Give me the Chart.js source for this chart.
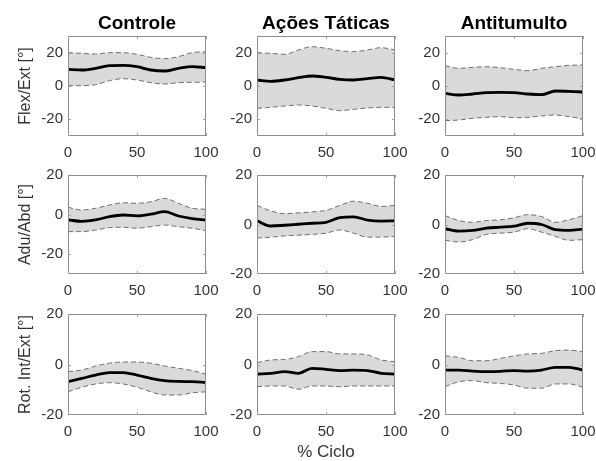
<!DOCTYPE html>
<html><head><meta charset="utf-8">
<script src="https://cdn.jsdelivr.net/npm/chart.js@4.4.1/dist/chart.umd.min.js"></script>
<style>
html,body{margin:0;padding:0;background:#fff;overflow:hidden;width:596px;height:461px}
#wrap{position:relative;width:596px;height:461px;overflow:hidden}
canvas{position:absolute}
</style></head><body><div id="wrap"></div>
<script>
// ---- data ----
const cycle = [0,10,20,30,40,50,60,70,80,90,100];
const groups = ['Controle','Ações Táticas','Antitumulto'];
const angles = ['Flex/Ext [°]','Adu/Abd [°]','Rot. Int/Ext [°]'];
const xLabel = '% Ciclo';
const xTicks = [0,50,100];
const yTicks = [-20,0,20];
const yMinRow1 = [-30,-30,-30], yMaxRow1 = [30,30,30];
const yMinRow2 = [-30,-20,-20], yMaxRow2 = [20,20,20];
const yMinRow3 = [-20,-20,-20], yMaxRow3 = [20,20,20];

// Flex/Ext
const flexControleMean  = [10,9.6,10.6,12.2,12.4,11.6,9.6,9,10.6,11.6,11];
const flexControleUpper = [20,19.6,19.2,20,20,19,17.2,16.4,17.6,20,20.6];
const flexControleLower = [0.2,0.2,0.8,3.2,4.4,3.6,2,1.2,2,2.2,2.4];
const flexTaticasMean   = [3.6,2.8,3.6,5,6,5.2,4,3.6,4.4,5.2,3.6];
const flexTaticasUpper  = [20,19.6,19,21.6,23.6,22.6,21.2,20.6,21.6,23,21.6];
const flexTaticasLower  = [-13.4,-12.8,-12,-11.4,-12,-13.4,-14.8,-14,-13.2,-12.8,-12.8];
const flexTumultoMean   = [-4.4,-5.4,-4.8,-4,-3.8,-4,-4.8,-5.2,-3,-3.2,-3.6];
const flexTumultoUpper  = [12.2,10.6,11.2,11.6,11,10,9.2,10.6,11.6,12.4,12.6];
const flexTumultoLower  = [-20.8,-20.4,-19.4,-18.8,-18.4,-19,-18.8,-18,-17.4,-18.4,-19.8];
// Adu/Abd
const aduControleMean   = [-2.7,-3.4,-2.7,-1,-0.2,-0.6,0.2,1.5,-0.7,-2,-2.7];
const aduControleUpper  = [3.7,2.3,3.2,4.8,6,5.7,6.5,8.2,5.7,3.2,2.7];
const aduControleLower  = [-8.6,-8.6,-7.8,-6.6,-6.4,-6.9,-6.1,-5.3,-6.1,-6.9,-8.1];
const aduTaticasMean    = [1.5,-0.6,-0.3,0.1,0.5,0.9,2.8,3.1,1.8,1.4,1.5];
const aduTaticasUpper   = [7.7,5.5,4.4,4.7,5.1,5.7,7.7,9.4,8.6,7.3,7.7];
const aduTaticasLower   = [-5.5,-5.1,-4.6,-4.3,-4,-3.5,-2.2,-3.5,-5.1,-5.1,-4.8];
const aduTumultoMean    = [-1.7,-2.7,-2.4,-1.5,-1.1,-0.7,0.5,0,-2.1,-2.4,-1.9];
const aduTumultoUpper   = [3.6,1.6,0.9,1.6,1.9,2.7,4,3.2,0.9,1.9,3.6];
const aduTumultoLower   = [-6.4,-7.1,-6.1,-4,-3.5,-3.1,-1.7,-3.1,-4.8,-6.4,-6.1];
// Rot. Int/Ext
const rotControleMean   = [-6.8,-5.5,-4.2,-3.2,-3.2,-4.2,-5.5,-6.4,-6.7,-6.8,-7.1];
const rotControleUpper  = [-2.8,-2.2,-0.6,0.5,1,1,0.5,-0.6,-1.5,-2.4,-3.8];
const rotControleLower  = [-10.8,-9,-7.7,-7.2,-7.7,-9,-10.8,-12.1,-12.1,-11.2,-10.8];
const rotTaticasMean    = [-3.8,-3.5,-2.8,-3.5,-1.5,-1.9,-2.4,-2.2,-2.4,-3.5,-3.8];
const rotTaticasUpper   = [0.7,1.8,2,3.1,5.1,5.1,4.2,4.2,3.8,1.8,1.1];
const rotTaticasLower   = [-8.8,-8.5,-8.5,-9.8,-8.5,-8.5,-8.8,-8.5,-8.5,-8.5,-8.5];
const rotTumultoMean    = [-2.2,-2.2,-2.6,-2.8,-2.7,-2.4,-2.6,-2.2,-1.1,-1.1,-2.2];
const rotTumultoUpper   = [3.4,2.8,1.5,1.5,2.4,3.4,4.2,4.4,5.5,5.7,5.1];
const rotTumultoLower   = [-8.8,-6.8,-6.4,-7.2,-7.5,-8.1,-9.4,-9.4,-7.7,-7.7,-9];

const panels = [
  [[flexControleMean,flexControleUpper,flexControleLower],[flexTaticasMean,flexTaticasUpper,flexTaticasLower],[flexTumultoMean,flexTumultoUpper,flexTumultoLower]],
  [[aduControleMean,aduControleUpper,aduControleLower],[aduTaticasMean,aduTaticasUpper,aduTaticasLower],[aduTumultoMean,aduTumultoUpper,aduTumultoLower]],
  [[rotControleMean,rotControleUpper,rotControleLower],[rotTaticasMean,rotTaticasUpper,rotTaticasLower],[rotTumultoMean,rotTumultoUpper,rotTumultoLower]]
];
const yMins = [yMinRow1,yMinRow2,yMinRow3];
const yMaxs = [yMaxRow1,yMaxRow2,yMaxRow3];

// ---- layout ----
const colLeft = [68,257,445];
const rowTop = [36,175,314];
const frameW = 138;
const frameH = [100,99,101];
const FONT = '"Liberation Sans", Arial, Helvetica, sans-serif';

const framePlugin = {
  id:'frame',
  afterDatasetsDraw(chart){
    const {ctx, chartArea:a} = chart;
    ctx.save();
    ctx.strokeStyle = '#8c8c8c';
    ctx.lineWidth = 1;
    ctx.strokeRect(Math.round(a.left)+0.5, Math.round(a.top)+0.5, Math.round(a.right-a.left)-1, Math.round(a.bottom-a.top)-1);
    ctx.strokeStyle = '#a0a0a0';
    const xs = chart.scales.x, ys = chart.scales.y;
    xTicks.forEach(v=>{
      const px = Math.round(xs.getPixelForValue(v))+0.5;
      ctx.beginPath(); ctx.moveTo(px,a.bottom); ctx.lineTo(px,a.bottom-3);
      ctx.moveTo(px,a.top); ctx.lineTo(px,a.top+3); ctx.stroke();
    });
    yTicks.forEach(v=>{
      const py = Math.round(ys.getPixelForValue(v))+0.5;
      if (py < a.top+1 || py > a.bottom-1) return;
      ctx.beginPath(); ctx.moveTo(a.left,py); ctx.lineTo(a.left+3,py);
      ctx.moveTo(a.right,py); ctx.lineTo(a.right-3,py); ctx.stroke();
    });
    ctx.restore();
  }
};

const wrap = document.getElementById('wrap');
for (let r=0;r<3;r++){
  for (let c=0;c<3;c++){
    const yw = c===0 ? 68 : 45;
    const topPad = r===0 ? 36 : 10;
    const rightPad = 14;
    const xh = (r===2 && c===1) ? 50 : 30;
    const L = colLeft[c], T = rowTop[r], H = frameH[r];
    const cw = yw + frameW + rightPad, ch = topPad + H + xh;
    const cv = document.createElement('canvas');
    cv.width = cw; cv.height = ch;
    cv.style.left = (L-yw)+'px'; cv.style.top = (T-topPad)+'px';
    cv.style.width = cw+'px'; cv.style.height = ch+'px';
    wrap.appendChild(cv);
    const [mean, upper, lower] = panels[r][c];
    const pts = arr => cycle.map((x,i)=>({x, y:arr[i]}));
    new Chart(cv, {
      type:'line',
      data:{datasets:[
        {data:pts(mean), borderColor:'#000', borderWidth:2.8, fill:false, pointRadius:0, cubicInterpolationMode:'monotone'},
        {data:pts(upper), borderColor:'#6e6e6e', borderWidth:1, borderDash:[5,3], fill:false, pointRadius:0, cubicInterpolationMode:'monotone'},
        {data:pts(lower), borderColor:'#6e6e6e', borderWidth:1, borderDash:[5,3], fill:'-1', backgroundColor:'#dadada', pointRadius:0, cubicInterpolationMode:'monotone'}
      ]},
      options:{
        responsive:false, animation:false, devicePixelRatio:1,
        layout:{padding:{left:0,right:rightPad,top:r===0?0:topPad,bottom:0}},
        plugins:{
          legend:{display:false}, tooltip:{enabled:false},
          title:{display:r===0, fullSize:false, text:groups[c], color:'#000', font:{family:FONT,size:19,weight:'bold'}, padding:{top:12,bottom:1.2}}
        },
        scales:{
          x:{type:'linear', min:0, max:100,
            grid:{display:false, drawTicks:false}, border:{display:false},
            afterBuildTicks:s=>{s.ticks = xTicks.map(v=>({value:v}));},
            afterFit:s=>{s.height = xh; s.paddingLeft=0; s.paddingRight=0;},
            ticks:{color:'#333', padding:8, maxRotation:0, autoSkip:false, font:{family:FONT,size:15}},
            title:{display:(r===2&&c===1), text:xLabel, color:'#333', font:{family:FONT,size:17}, padding:{top:0,bottom:2}}
          },
          y:{min:yMins[r][c], max:yMaxs[r][c],
            grid:{display:false, drawTicks:false}, border:{display:false},
            afterBuildTicks:s=>{s.ticks = yTicks.map(v=>({value:v}));},
            afterFit:s=>{s.width = yw; s.paddingTop=0; s.paddingBottom=0;},
            ticks:{color:'#333', padding:5, autoSkip:false, font:{family:FONT,size:15}},
            title:{display:c===0, text:angles[r], color:'#333', font:{family:FONT,size:16}, padding:{top:16,bottom:0}}
          }
        }
      },
      plugins:[framePlugin]
    });
  }
}
</script></body></html>
